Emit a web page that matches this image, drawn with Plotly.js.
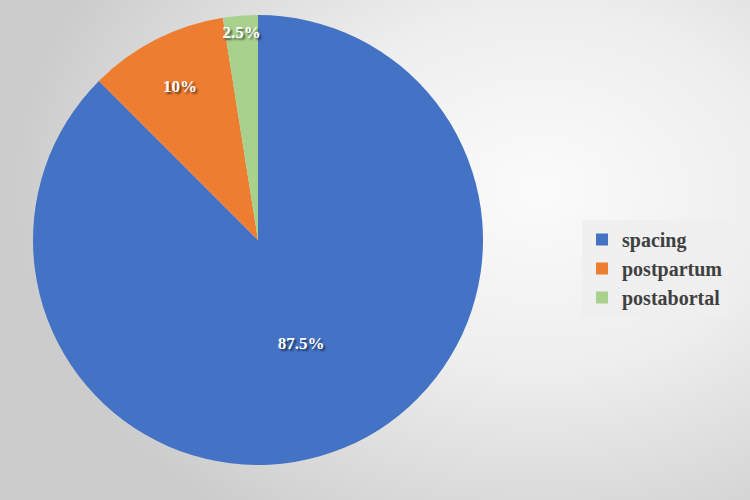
<!DOCTYPE html>
<html>
<head>
<meta charset="utf-8">
<script src="https://cdn.plot.ly/plotly-3.0.1.min.js"></script>
<style>
  html, body { margin: 0; padding: 0; }
  body {
    width: 750px; height: 500px; overflow: hidden;
    background: radial-gradient(ellipse 70% 80% at 72% 38%, #fbfbfb 0%, #eeeeee 45%, #d6d6d6 85%, #cccccc 100%);
  }
  #chart { width: 750px; height: 500px; }
</style>
</head>
<body>
<div id="chart"></div>
<script>
const categories = ['spacing', 'postpartum', 'postabortal'];
const shares = [87.5, 10, 2.5];
const labelsText = ['87.5%', '10%', '2.5%'];
const sliceColors = ['#4472C4', '#ED7D31', '#A9D18E'];

const trace = {
  type: 'pie',
  labels: categories,
  values: shares,
  text: labelsText,
  textinfo: 'text',
  sort: false,
  direction: 'clockwise',
  rotation: 0,
  hole: 0,
  marker: { colors: sliceColors, line: { width: 0 } },
  textposition: 'inside',
  insidetextorientation: 'horizontal',
  textfont: {
    family: 'Liberation Serif, Times New Roman, serif',
    size: 17,
    color: '#ffffff',
    weight: 'bold',
    shadow: '2px 2px 2px rgba(0,0,0,0.55)'
  },
  domain: { x: [0.044, 0.644], y: [0.07, 0.97] },
  hoverinfo: 'label+percent'
};

const layout = {
  width: 750,
  height: 500,
  margin: { l: 0, r: 0, t: 0, b: 0 },
  paper_bgcolor: 'rgba(0,0,0,0)',
  plot_bgcolor: 'rgba(0,0,0,0)',
  showlegend: true,
  uniformtext: { minsize: 17, mode: 'show' },
  legend: {
    x: 0.776, xanchor: 'left',
    y: 0.56, yanchor: 'top',
    bgcolor: 'rgba(238,238,238,0.85)',
    borderwidth: 0,
    font: { family: 'Liberation Serif, Times New Roman, serif', size: 20, color: '#404040', weight: 'bold' },
    itemsizing: 'constant'
  }
};

Plotly.newPlot('chart', [trace], layout, { displayModeBar: false, staticPlot: true });
</script>
</body>
</html>
